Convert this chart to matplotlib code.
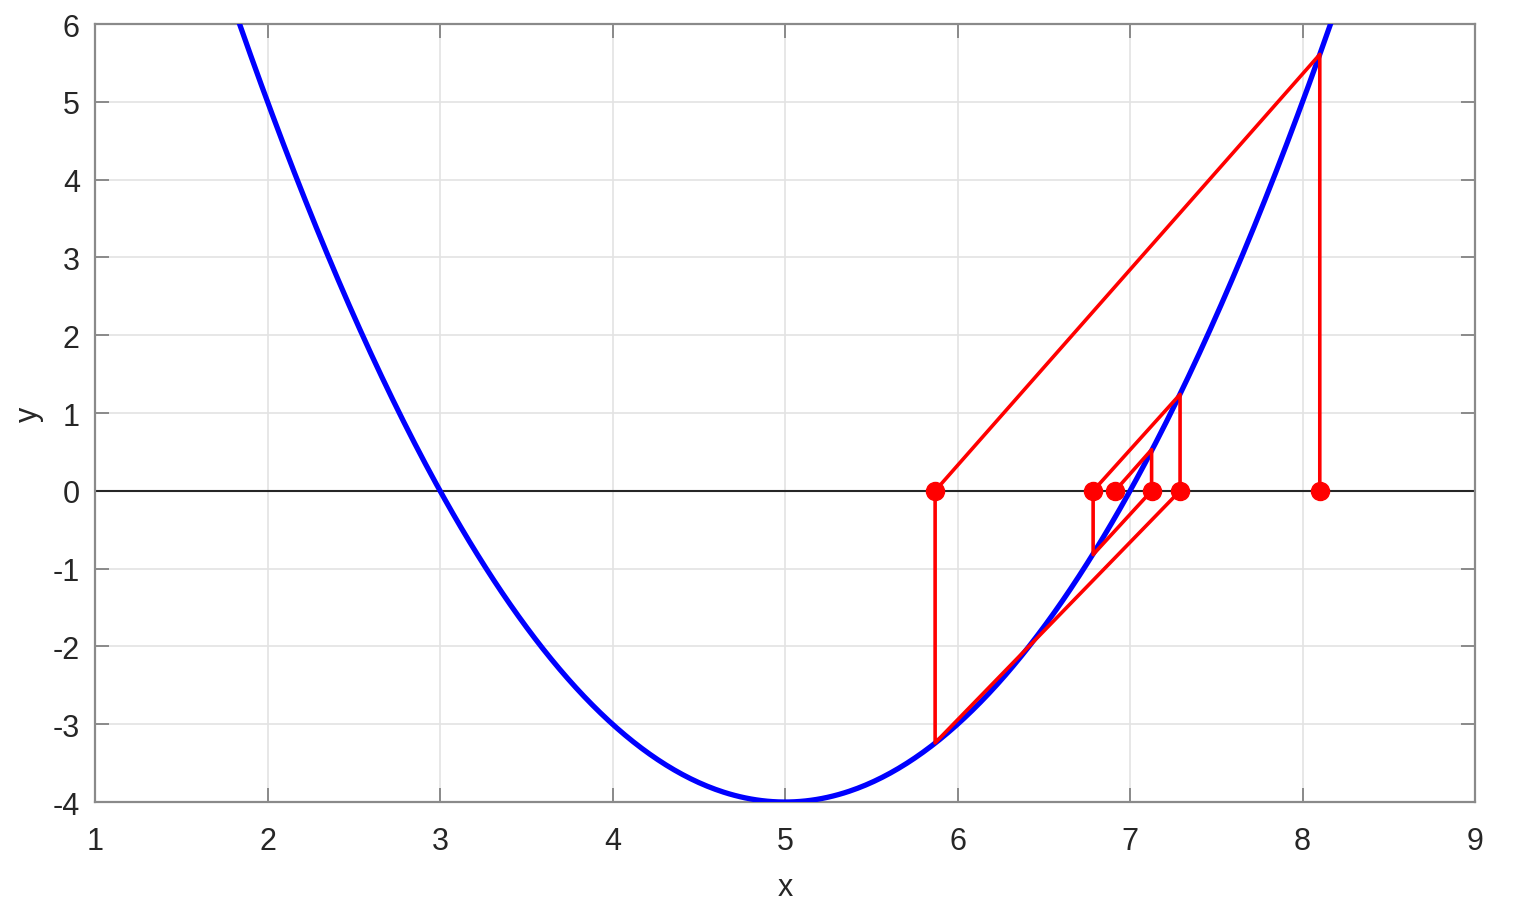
import numpy as np
import matplotlib
matplotlib.use("Agg")
import matplotlib.pyplot as plt

plt.rcParams['font.family'] = ['Liberation Sans', 'DejaVu Sans']
plt.rcParams['axes.unicode_minus'] = False

# Parabola y = x^2 - 10x + 21 (coefficients)
coef = [1.0, -10.0, 21.0]
x_curve_range = (1.838, 8.162)

# Iteration points (x on axis, y on curve)
iter_x = [8.10, 5.87, 7.29, 6.786, 7.125, 6.913]
iter_fy = [5.61, -3.24, 1.24, -0.82, 0.53]

x_ticks = [1, 2, 3, 4, 5, 6, 7, 8, 9]
y_ticks = [-4, -3, -2, -1, 0, 1, 2, 3, 4, 5, 6]

fig = plt.figure(figsize=(15.26, 9.04), dpi=100)
ax = fig.add_axes([0.0623, 0.1117, 0.9043, 0.8606])

ax.grid(True, color='#e3e3e3', linewidth=1.2)
ax.set_axisbelow(True)

ax.axhline(0, color='#262626', linewidth=1.5, zorder=2)

xc = np.linspace(x_curve_range[0], x_curve_range[1], 400)
yc = np.polyval(coef, xc)
ax.plot(xc, yc, color='#0000ff', linewidth=3.8, zorder=3)

# build red path: axis -> curve -> next axis point ...
px, py = [], []
for i, fy in enumerate(iter_fy):
    px += [iter_x[i], iter_x[i]]
    py += [0, fy]
px.append(iter_x[-1]); py.append(0)
ax.plot(px, py, color='#ff0000', linewidth=2.6, zorder=4)
ax.plot(iter_x, [0] * len(iter_x), 'o', color='#ff0000', markersize=13, zorder=5)

ax.set_xlim(1, 9)
ax.set_ylim(-4, 6)
ax.set_xticks(x_ticks)
ax.set_yticks(y_ticks)
ax.tick_params(direction='in', length=10, width=1.2, color='#7a7a7a',
               labelsize=22, labelcolor='#262626', top=True, right=True)
ax.tick_params(axis='x', pad=17)
ax.tick_params(axis='y', pad=11)
for s in ax.spines.values():
    s.set_color('#8a8a8a')
    s.set_linewidth(1.6)

ax.set_xlabel('x', fontsize=22, color='#262626', labelpad=12)
ax.set_ylabel('y', fontsize=22, color='#262626', labelpad=6)

fig.savefig('out.png', dpi=100)
